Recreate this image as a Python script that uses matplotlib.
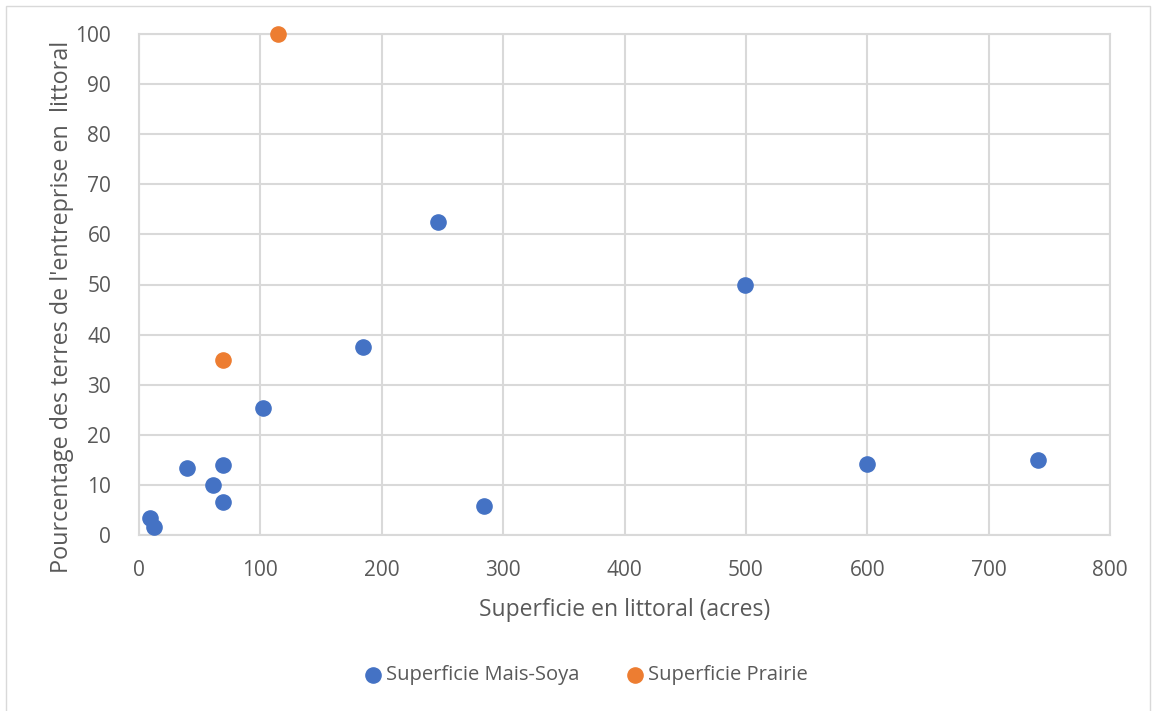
import matplotlib.pyplot as plt
from matplotlib.patches import Rectangle

# donnees
mais_soya_x = [9, 12.4, 39.5, 61, 69.2, 69.2, 102, 184.6, 246.4, 284, 499, 600, 740.7]
mais_soya_y = [3.4, 1.6, 13.4, 10, 14, 6.6, 25.3, 37.5, 62.5, 5.8, 50, 14.2, 15]
prairie_x = [69.2, 114.5]
prairie_y = [35, 100]

xticks = [0, 100, 200, 300, 400, 500, 600, 700, 800]
yticks = [0, 10, 20, 30, 40, 50, 60, 70, 80, 90, 100]

plt.rcParams['font.family'] = ['Open Sans', 'DejaVu Sans']
txt = '#595959'
grid = '#d9d9d9'

W, H = 1153, 711
fig = plt.figure(figsize=(W / 100, H / 100), dpi=100)
ax = fig.add_axes([139 / W, 1 - 535 / H, (1110 - 139) / W, (535 - 34) / H])

ax.scatter(mais_soya_x, mais_soya_y, s=120, color='#4472c4', zorder=3,
           label='Superficie Mais-Soya', clip_on=False)
ax.scatter(prairie_x, prairie_y, s=120, color='#ed7d31', zorder=3,
           label='Superficie Prairie', clip_on=False)

ax.set_xlim(0, 800)
ax.set_ylim(0, 100)
ax.set_xticks(xticks)
ax.set_yticks(yticks)
ax.grid(True, color=grid, linewidth=1.5)
ax.set_axisbelow(True)
for s in ax.spines.values():
    s.set_color(grid)
    s.set_linewidth(1.5)
ax.tick_params(axis='x', length=0, labelsize=15, colors=txt, pad=18)
ax.tick_params(axis='y', length=0, labelsize=15, colors=txt, pad=20)

ax.set_xlabel('Superficie en littoral (acres)', fontsize=16.5, color=txt, labelpad=12)
ax.set_ylabel("Pourcentage des terres de l'entreprise en  littoral", fontsize=16.8,
              color=txt)
ax.yaxis.set_label_coords(-0.067, 0.455)

ax.legend(loc='center', bbox_to_anchor=(0.5 + 9 / W, 1 - 675 / H), bbox_transform=fig.transFigure,
          ncol=2, frameon=False, fontsize=14.5, labelcolor=txt, handletextpad=0.2,
          handlelength=0.9, columnspacing=2.3, markerscale=1.0)

fig.patches.append(Rectangle((6 / W, -0.01), 1144 / W, 1 - 6 / H + 0.01,
                             transform=fig.transFigure, fill=False,
                             edgecolor=grid, linewidth=1))

fig.savefig('out.png', dpi=100)
